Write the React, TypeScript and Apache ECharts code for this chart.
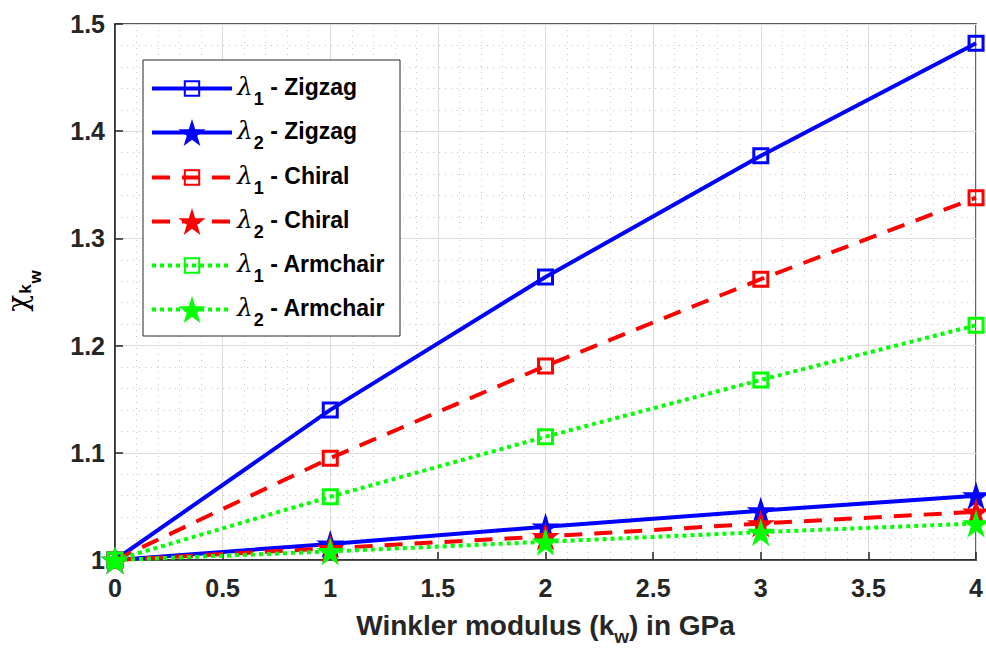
import React, { useEffect, useRef } from "react";
import * as echarts from "echarts";

const kw = [0, 1, 2, 3, 4];
const zigzagL1 = [1, 1.14, 1.264, 1.377, 1.482];
const zigzagL2 = [1, 1.015, 1.031, 1.046, 1.06];
const chiralL1 = [1, 1.095, 1.181, 1.262, 1.338];
const chiralL2 = [1, 1.011, 1.022, 1.034, 1.045];
const armchairL1 = [1, 1.059, 1.115, 1.168, 1.219];
const armchairL2 = [1, 1.008, 1.017, 1.026, 1.034];
const modeLabels = ["1", "2", "1", "2", "1", "2"];
const typeLabels = ["Zigzag", "Zigzag", "Chiral", "Chiral", "Armchair", "Armchair"];

const STAR = "path://M50,0 L61.2,34.5 L97.6,34.5 L68.2,55.9 L79.4,90.5 L50,69.1 L20.6,90.5 L31.8,55.9 L2.4,34.5 L38.8,34.5 Z";

const FONT = "'Liberation Sans', Arial, sans-serif";
const SERIF = "'DejaVu Serif', serif";

export default function App() {
  const ref = useRef<HTMLDivElement>(null);
  useEffect(() => {
    const chart = echarts.init(ref.current!, undefined, { renderer: "svg" });
    const pair = (d: number[]) => kw.map((x, i) => [x, d[i]]);
    const mk = (
      name: string,
      data: number[],
      color: string,
      type: any,
      star: boolean
    ) => ({
      name,
      type: "line",
      data: pair(data),
      symbol: star ? STAR : "rect",
      symbolSize: star ? 28 : 14,
      showSymbol: true,
      lineStyle: { color, width: 4, type },
      itemStyle: star
        ? { color, borderWidth: 0 }
        : { color: "rgba(255,255,255,0)", borderColor: color, borderWidth: 3 },
      z: 2,
    });
    const series = [
      mk("s0", zigzagL1, "#0000ff", "solid", false),
      mk("s1", zigzagL2, "#0000ff", "solid", true),
      mk("s2", chiralL1, "#ff0000", [18, 12], false),
      mk("s3", chiralL2, "#ff0000", [18, 12], true),
      mk("s4", armchairL1, "#00ff00", [4, 4], false),
      mk("s5", armchairL2, "#00ff00", [4, 4], true),
    ];
    const rowCenters = [87, 131, 176, 220, 264, 308];
    const legends = series.map((s, i) => {
      const star = i % 2 === 1;
      return {
        show: true,
        orient: "vertical",
        left: 150,
        top: rowCenters[i] - 13,
        padding: 0,
        itemWidth: 80,
        itemHeight: star ? 34 : 18,
        lineStyle: { width: 4 },
        data: [s.name],
        formatter: () => `{l|λ}{s|${modeLabels[i]}}{t| - ${typeLabels[i]}}`,
        textStyle: {
          color: "#000",
          fontFamily: FONT,
          fontWeight: "bold",
          fontSize: 23,
          rich: {
            l: { fontFamily: SERIF, fontStyle: "italic", fontSize: 25, fontWeight: "normal", color: "#000", padding: [0, 0, 4, 0] },
            s: { fontFamily: FONT, fontWeight: "bold", fontSize: 18, padding: [20, 0, 0, 1], color: "#000" },
            t: { fontFamily: FONT, fontWeight: "bold", fontSize: 23, color: "#000", padding: [0, 0, 4, 0] },
          },
        },
      };
    });
    const axisLabel = {
      color: "#262626",
      fontFamily: FONT,
      fontWeight: "bold",
      fontSize: 25,
    };
    chart.setOption({
      animation: false,
      backgroundColor: "#fff",
      grid: {
        left: 115,
        right: 8,
        top: 24,
        bottom: 90,
        show: true,
        borderColor: "#262626",
        borderWidth: 1.5,
        backgroundColor: "transparent",
      },
      legend: legends,
      graphic: [
        {
          type: "rect",
          z: 3,
          shape: { x: 143, y: 60, width: 257, height: 276 },
          style: { fill: "#fff", stroke: "#262626", lineWidth: 1 },
        },
        {
          type: "text",
          z: 5,
          x: 17,
          y: 291,
          rotation: Math.PI / 2,
          style: {
            text: "{c|χ}{k|k}{w|w}",
            align: "center",
            verticalAlign: "middle",
            rich: {
              c: { fontFamily: SERIF, fontSize: 28, color: "#262626" },
              k: { fontFamily: FONT, fontWeight: "bold", fontSize: 17, padding: [16, 0, 0, 1], color: "#262626" },
              w: { fontFamily: FONT, fontWeight: "bold", fontSize: 17, padding: [36, 0, 0, 1], color: "#262626" },
            },
          },
        },
      ],
      xAxis: {
        type: "value",
        min: 0,
        max: 4,
        interval: 0.5,
        name: "{a|Winkler modulus (k}{w|w}{a|) in GPa}",
        nameLocation: "middle",
        nameGap: 45,
        nameMoveOverlap: false,
        nameTextStyle: {
          rich: {
            a: { fontFamily: FONT, fontWeight: "bold", fontSize: 28, color: "#262626" },
            w: { fontFamily: FONT, fontWeight: "bold", fontSize: 19, color: "#262626", padding: [22, 0, 0, 0] },
          },
        },
        axisLine: { lineStyle: { color: "#262626", width: 1.5 } },
        axisTick: { inside: true, length: 8, lineStyle: { color: "#262626", width: 1.5 } },
        axisLabel: { ...axisLabel, margin: 15 },
        splitLine: { show: true, lineStyle: { color: "#dcdcdc", width: 1 } },
        minorTick: { show: false, splitNumber: 5 },
        minorSplitLine: { show: true, lineStyle: { color: "#c8c8c8", width: 1, type: [1, 5] } },
      },
      yAxis: {
        type: "value",
        min: 1,
        max: 1.5,
        interval: 0.1,
        axisLine: { lineStyle: { color: "#262626", width: 1.5 } },
        axisTick: { inside: true, length: 8, lineStyle: { color: "#262626", width: 1.5 } },
        axisLabel: { ...axisLabel, margin: 10 },
        splitLine: { show: true, lineStyle: { color: "#dcdcdc", width: 1 } },
        minorTick: { show: false, splitNumber: 5 },
        minorSplitLine: { show: true, lineStyle: { color: "#c8c8c8", width: 1, type: [1, 5] } },
      },
      series,
    });
    return () => chart.dispose();
  }, []);
  return <div ref={ref} style={{ width: 986, height: 651, position: "fixed", left: 0, top: 0 }} />;
}
